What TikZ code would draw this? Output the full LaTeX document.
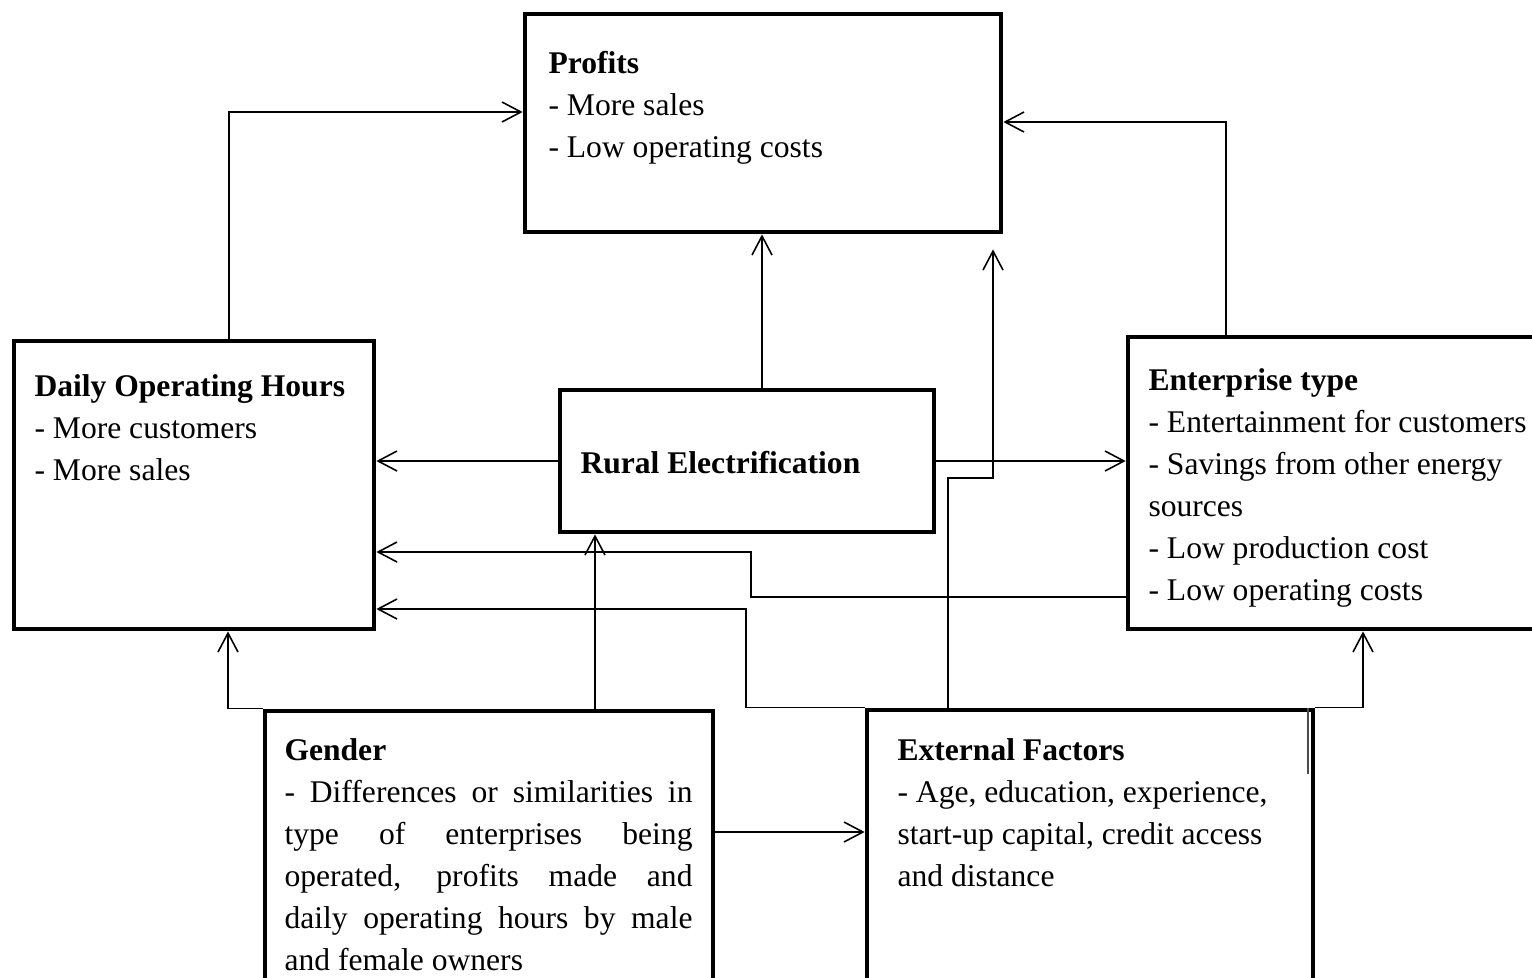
\documentclass[tikz,border=0pt]{standalone}
\usepackage{fontspec}
\setmainfont{Liberation Serif}
\usetikzlibrary{arrows.meta,calc}
\newcommand{\unitpx}{0.38pt}
\begin{document}
\begin{tikzpicture}[x=0.38pt,y=-0.38pt,
    box/.style={draw=black,line width=1.8pt,inner sep=0pt},
    txt/.style={inner sep=0pt,anchor=base west,align=flush left,text width=400*\unitpx,font=\fontsize{12}{16}\selectfont},
    conn/.style={draw=black,line width=0.6pt,-{Straight Barb[length=7.2pt,width=7.6pt]}}]
    \useasboundingbox (0,0) rectangle (1532,977);
    \clip (0,0) rectangle (1532,977);
    \node[box,minimum width=476*\unitpx,minimum height=218*\unitpx] (prof) at (763,123) {};
    \node[box,minimum width=360*\unitpx,minimum height=288*\unitpx] (doh) at (194,485) {};
    \node[box,minimum width=374*\unitpx,minimum height=142*\unitpx] (rural) at (747,461) {};
    \node[box,minimum width=417*\unitpx,minimum height=292*\unitpx] (ent) at (1336.5,483) {};
    \node[box,minimum width=448*\unitpx,minimum height=290*\unitpx] (gen) at (489,856) {};
    \node[box,minimum width=446*\unitpx,minimum height=290*\unitpx] (ext) at (1090,855) {};
    \node[txt] (proft) at (548,73) {\textbf{Profits}\\- More sales\\- Low operating costs};
    \node[txt] (doht) at (34,396) {\textbf{Daily Operating Hours}\\- More customers\\- More sales};
    \node[txt] (ruralt) at (580,473) {\textbf{Rural Electrification}};
    \node[txt] (entt) at (1148,390) {\textbf{Enterprise type}\\- Entertainment for customers\\- Savings from other energy\\sources\\- Low production cost\\- Low operating costs};
    \node[txt,align=justify,text width=408*\unitpx] (gent) at (284,760) {\textbf{Gender}\linebreak
        - Differences or similarities in\linebreak type of enterprises being\linebreak operated, profits made and\linebreak daily operating hours by male\linebreak and female owners};
    \node[txt] (extt) at (897,760) {\textbf{External Factors}\\- Age, education, experience,\\start-up capital, credit access\\and distance};
    \draw[conn] (doh.north -| 229,0) |- (prof.west |- 0,112);
    \draw[conn] (ent.north -| 1226,0) |- (prof.east |- 0,122);
    \draw[conn] (rural.north -| 762,0) -- (prof.south -| 762,0);
    \draw[conn] (rural.west) -- (doh.east |- rural.west);
    \draw[conn] (rural.east) -- (ent.west |- rural.east);
    \draw[conn] (ent.west |- 0,597) -| (751,552) -- (doh.east |- 0,552);
    \draw[conn] (ext.north west) -| (746,609) -- (doh.east |- 0,609);
    \draw[conn] (ext.north -| 948,0) |- (993,478) -- ($(prof.south -| 993,0)+(0,15)$);
    \draw[conn] (ext.north east) -| (ent.south -| 1363,0);
    \draw[conn] (gen.north west) -| (doh.south -| 228,0);
    \draw[conn] (gen.north -| 595,0) -- (rural.south -| 595,0);
    \draw[conn] (gen.east |- 0,832) -- (ext.west |- 0,832);
    \draw[line width=0.5pt,black!70] (ext.north east -| 1308,0) -- ++(0,66);
\end{tikzpicture}
\end{document}
